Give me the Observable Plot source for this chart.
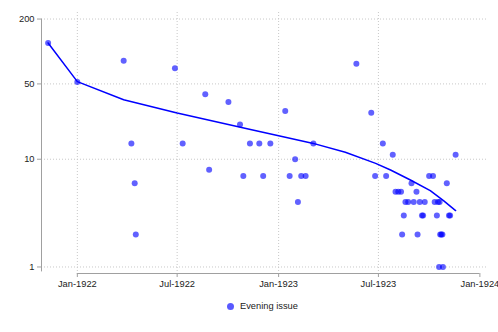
<!DOCTYPE html>
<html><head><meta charset="utf-8">
<script src="https://cdn.jsdelivr.net/npm/d3@7"></script>
<script src="https://cdn.jsdelivr.net/npm/@observablehq/plot@0.6"></script>
<style>
body{margin:0;background:#fff;font-family:"Liberation Sans",Arial,sans-serif;}
#wrap{position:relative;width:498px;height:332px;overflow:hidden;}
#legend{position:absolute;left:227px;top:301px;display:flex;align-items:center;font-size:9.3px;line-height:11px;color:#222;}
#legend .sw{display:inline-block;width:7px;height:7px;border-radius:50%;background:#0000ff;opacity:0.65;margin-right:6px;}
</style></head>
<body><div id="wrap"><div id="chart"></div><div id="legend"><span class="sw"></span><span>Evening issue</span></div></div>
<script>
// Observed points: issue date and count
const issueDates = [
"1921-11-09","1922-01-01","1922-03-26","1922-04-09","1922-04-15","1922-04-17",
"1922-06-27","1922-07-11","1922-08-21","1922-08-28","1922-10-02","1922-10-23","1922-10-29",
"1922-11-10","1922-11-27","1922-12-04","1922-12-17",
"1923-01-13","1923-01-21","1923-01-31","1923-02-05","1923-02-11","1923-02-19","1923-03-05",
"1923-05-22","1923-06-18","1923-06-25","1923-07-09","1923-07-15","1923-07-27",
"1923-08-01","1923-08-06","1923-08-11","1923-08-13","1923-08-16","1923-08-19","1923-08-24","1923-08-30",
"1923-09-03","1923-09-08","1923-09-10","1923-09-14","1923-09-18","1923-09-20","1923-09-23",
"1923-10-01","1923-10-08","1923-10-11","1923-10-15","1923-10-17","1923-10-19","1923-10-20",
"1923-10-21","1923-10-23","1923-10-25","1923-10-26",
"1923-11-02","1923-11-06","1923-11-08","1923-11-18"
];
const issueCounts = [
120,52,82,14,6,2,
70,14,40,8,34,21,7,
14,14,7,14,
28,7,10,4,7,7,14,
77,27,7,14,7,11,
5,5,5,2,3,4,4,6,
4,5,2,4,3,3,4,
7,7,4,3,4,1,4,
2,2,2,1,
6,3,3,11
];
// Fitted line
const fitDates = ["1921-11-09","1922-01-01","1922-03-26","1922-07-01","1922-11-11","1923-01-01","1923-03-03","1923-05-02","1923-06-26","1923-07-23","1923-08-28","1923-10-03","1923-10-27","1923-11-18"];
const fitValues = [120,52.5,35.6,26.8,18.9,16.5,14.1,11.6,9.15,7.94,6.42,5.11,4.13,3.34];

const yTicks = [1,10,50,200];
const xTickDates = ["1922-01-01","1922-07-01","1923-01-01","1923-07-01","1924-01-01"];
const xDomainDates = ["1921-10-28","1924-01-13"];
const yDomain = [0.87,230];

const pts = issueDates.map((d,i)=>({date:new Date(d), n:issueCounts[i]}));
const fit = fitDates.map((d,i)=>({date:new Date(d), v:fitValues[i]}));
const xTicks = xTickDates.map(d=>new Date(d));
const xDomain = xDomainDates.map(d=>new Date(d));

const axisColor = "#a0a0a0";
const textColor = "#222";
const gridStyle = {stroke:"#c8c8c8", strokeOpacity:1, strokeDasharray:"1,2"};
const fmt = d3.utcFormat("%b-%Y");

const chart = Plot.plot({
  width:498, height:295,
  marginLeft:41, marginRight:12, marginTop:12, marginBottom:22,
  style:{fontFamily:"Liberation Sans, Arial, sans-serif", fontSize:"9.3px", color:textColor, background:"#fff"},
  x:{type:"utc", domain:xDomain, label:null, axis:null},
  y:{type:"log", domain:yDomain, label:null, axis:null},
  marks:[
    // grid
    Plot.ruleY(yTicks, {y:d=>d, ...gridStyle}),
    Plot.ruleX(xTicks.slice(0,-1), {x:d=>d, ...gridStyle}),
    // axis lines
    Plot.ruleX([xDomain[0]], {y1:0.9, y2:yTicks[yTicks.length-1], stroke:axisColor}),
    Plot.ruleY([yDomain[0]], {x1:xTicks[0], x2:xTicks[xTicks.length-1], stroke:axisColor}),
    // y ticks and labels
    Plot.ruleY(yTicks, {y:d=>d, x1:xDomain[0], x2:xDomain[0], insetLeft:-4, stroke:axisColor}),
    Plot.text(yTicks, {y:d=>d, x:xDomain[0], text:d=>String(d), dx:-7, textAnchor:"end", fill:textColor}),
    // x ticks and labels
    Plot.ruleX(xTicks, {x:d=>d, y1:yDomain[0], y2:yDomain[0], insetBottom:-4, stroke:axisColor}),
    Plot.text(xTicks, {x:d=>d, y:yDomain[0], text:d=>fmt(d), dy:10.5, fill:textColor}),
    // data
    Plot.dot(pts, {x:"date", y:"n", r:3, fill:"#0000ff", fillOpacity:0.62}),
    Plot.line(fit, {x:"date", y:"v", stroke:"#0000ff", strokeWidth:1.5})
  ]
});
document.getElementById("chart").appendChild(chart);
</script>
</body></html>
